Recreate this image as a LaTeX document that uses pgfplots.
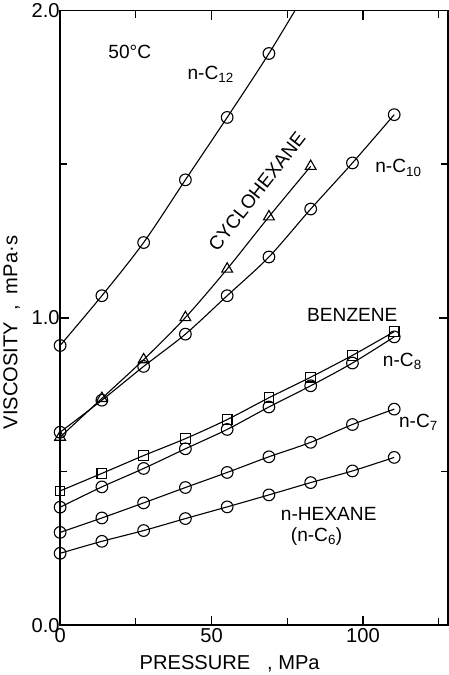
\documentclass[border=0pt]{standalone}
\usepackage{fontspec}
\setmainfont{Liberation Sans}
\usepackage{pgfplots}
\pgfplotsset{compat=1.18}

\pgfplotsset{
  visc/.style={black, line width=1.1pt, smooth, tension=0.5,
    mark options={solid, fill=white, line width=1.1pt}},
}

\begin{document}
\begin{tikzpicture}
\begin{axis}[
    scale only axis,
    width=384bp, height=609bp,
    xmin=0, xmax=128, ymin=0, ymax=2,
    xtick={0,50,100}, minor xtick={25,75,125},
    ytick={0,1,2}, minor ytick={0.5,1.5},
    tick align=inside,
    major tick length=9bp, minor tick length=7bp,
    every tick/.style={black, line width=1.3pt},
    axis line style={line width=1.6pt},
    font=\fontsize{20}{23}\selectfont,
    /pgf/number format/assume math mode=true,
    yticklabel style={/pgf/number format/fixed, /pgf/number format/fixed zerofill,
      /pgf/number format/precision=1, xshift=3bp},
    xlabel={PRESSURE \ \ , MPa},
    ylabel={VISCOSITY \ , \ mPa·s},
    xlabel style={at={(axis description cs:0.4375,0)}, anchor=north, yshift=-26bp},
    ylabel style={at={(axis description cs:-0.125,0.476)}, anchor=center},
]
% n-hexane
\addplot[visc, mark=o, mark size=5.8pt] coordinates {
  (0,0.234) (13.79,0.273) (27.58,0.308) (41.37,0.347) (55.16,0.385)
  (68.95,0.424) (82.74,0.464) (96.53,0.502) (110.32,0.546)};
% n-C7
\addplot[visc, mark=o, mark size=5.8pt] coordinates {
  (0,0.302) (13.79,0.349) (27.58,0.398) (41.37,0.448) (55.16,0.497)
  (68.95,0.548) (82.74,0.595) (96.53,0.653) (110.32,0.703)};
% n-C8
\addplot[visc, mark=o, mark size=5.8pt] coordinates {
  (0,0.384) (13.79,0.450) (27.58,0.510) (41.37,0.574) (55.16,0.637)
  (68.95,0.710) (82.74,0.779) (96.53,0.853) (110.32,0.938)};
% benzene
\addplot[visc, mark=square, mark size=4.8pt] coordinates {
  (0,0.437) (13.79,0.494) (27.58,0.552) (41.37,0.607) (55.16,0.669)
  (68.95,0.740) (82.74,0.807) (96.53,0.878) (110.32,0.955)};
% n-C10
\addplot[visc, mark=o, mark size=5.8pt] coordinates {
  (0,0.628) (13.79,0.732) (27.58,0.842) (41.37,0.947) (55.16,1.072)
  (68.95,1.198) (82.74,1.354) (96.53,1.504) (110.32,1.661)};
% cyclohexane
\addplot[visc, mark=triangle, mark size=6.2pt] coordinates {
  (0,0.612) (13.79,0.738) (27.58,0.864) (41.37,1.001) (55.16,1.159)
  (68.95,1.329) (82.74,1.493)};
% n-C12
\addplot[visc, mark=o, mark size=5.8pt, mark indices={1,2,3,4,5,6}] coordinates {
  (0,0.910) (13.79,1.072) (27.58,1.245) (41.37,1.449) (55.16,1.652)
  (68.95,1.860) (82.74,2.085)};

\begin{scope}[font=\fontsize{19}{22}\selectfont]
\node at (axis cs:23,1.865) {50°C};
\node at (axis cs:49.7,1.793) {n-C\textsubscript{12}};
\node[rotate=52] at (axis cs:65,1.412) {CYCLOHEXANE};
\node at (axis cs:111.7,1.488) {n-C\textsubscript{10}};
\node at (axis cs:96.5,1.011) {BENZENE};
\node at (axis cs:113,0.858) {n-C\textsubscript{8}};
\node at (axis cs:118.3,0.661) {n-C\textsubscript{7}};
\node at (axis cs:88.7,0.361) {n-HEXANE};
\node at (axis cs:84.7,0.289) {(n-C\textsubscript{6})};
\end{scope}
\end{axis}
\end{tikzpicture}
\end{document}
